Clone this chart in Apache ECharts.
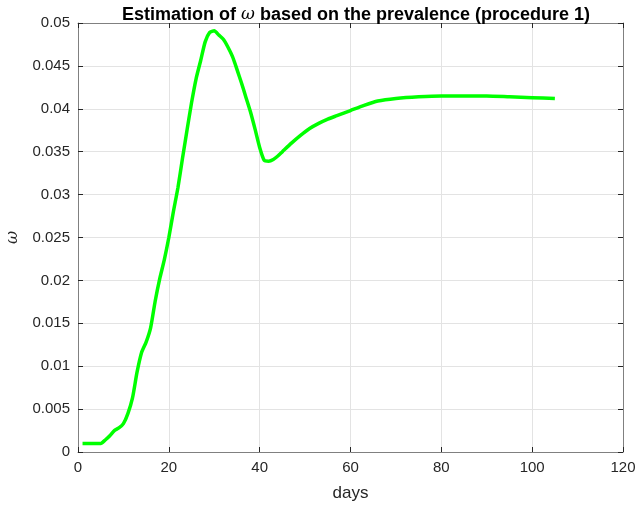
<!DOCTYPE html>
<html>
<head>
<meta charset="utf-8">
<script src="https://cdn.jsdelivr.net/npm/echarts@6/dist/echarts.min.js"></script>
<style>html,body{margin:0;padding:0;background:#fff}#c{width:636px;height:510px}</style>
</head>
<body>
<div id="c"></div>
<script>
const days = [1,2,3,4,5,6,7,8,9,10,11,12,13,14,15,16,17,18,19,20,21,22,23,24,25,26,27,28,29,30,31,32,33,34,35,36,37,38,39,40,41,42,43,44,45,47,49,51,53,55,57,60,63,66,70,75,80,85,90,95,100,105];
const omega = [0.0010,0.0010,0.0010,0.0010,0.0010,0.0014,0.0019,0.0025,0.0028,0.0033,0.0045,0.0063,0.0093,0.0116,0.0128,0.0145,0.0176,0.0202,0.0224,0.0250,0.0280,0.0308,0.0342,0.0375,0.0407,0.0435,0.0456,0.0478,0.0489,0.0491,0.0486,0.0481,0.0472,0.0461,0.0446,0.0430,0.0413,0.0396,0.0376,0.0355,0.0340,0.0339,0.0341,0.0345,0.0350,0.0360,0.0369,0.0377,0.0383,0.0388,0.0392,0.0398,0.0404,0.0409,0.0412,0.0414,0.0415,0.0415,0.0415,0.0414,0.0413,0.0412];
const xTicks = [0,20,40,60,80,100,120];
const yTicks = [0,0.005,0.01,0.015,0.02,0.025,0.03,0.035,0.04,0.045,0.05];

const chart = echarts.init(document.getElementById('c'), null, {renderer:'canvas'});
const font = 'Liberation Sans, Arial, Helvetica, sans-serif';
const axisCol = '#808080';
const txtCol = '#262626';
chart.setOption({
  animation:false,
  backgroundColor:'#fff',
  title:{
    text:'Estimation of {w|ω} based on the prevalence (procedure 1)',
    left:351, top:1, textAlign:'center',
    textStyle:{fontFamily:font,fontSize:18,fontWeight:'bold',color:'#000',
      rich:{w:{fontFamily:'DejaVu Serif, Liberation Serif, serif',fontStyle:'italic',fontWeight:'normal',fontSize:17,color:'#000'}}}
  },
  grid:{left:78,right:13,top:23,bottom:58,containLabel:false,outerBoundsMode:'none'},
  xAxis:[{
    type:'value',min:xTicks[0],max:xTicks[xTicks.length-1],interval:20,
    name:'days',nameLocation:'middle',nameGap:33,nameMoveOverlap:false,
    nameTextStyle:{fontFamily:font,fontSize:17,color:txtCol},
    axisLine:{show:true,lineStyle:{color:axisCol,width:1}},
    axisTick:{show:true,inside:true,length:5,lineStyle:{color:'#262626'}},
    axisLabel:{fontFamily:font,fontSize:15,color:txtCol,margin:8},
    splitLine:{show:true,lineStyle:{color:'#e3e3e3',width:1}}
  },{
    type:'value',position:'top',min:0,max:120,interval:20,
    axisLine:{show:true,onZero:false,lineStyle:{color:axisCol,width:1}},
    axisTick:{show:true,inside:true,length:5,lineStyle:{color:'#262626'}},
    axisLabel:{show:false},splitLine:{show:false}
  }],
  yAxis:[{
    type:'value',min:yTicks[0],max:yTicks[yTicks.length-1],interval:0.005,
    name:'ω',nameLocation:'middle',nameGap:57,nameRotate:90,nameMoveOverlap:false,
    nameTextStyle:{fontFamily:'DejaVu Serif, serif',fontStyle:'italic',fontSize:16,color:txtCol},
    axisLine:{show:true,lineStyle:{color:axisCol,width:1}},
    axisTick:{show:true,inside:true,length:5,lineStyle:{color:'#262626'}},
    axisLabel:{fontFamily:font,fontSize:15,color:txtCol,margin:8,formatter:v=>String(+v.toFixed(3))},
    splitLine:{show:true,lineStyle:{color:'#e3e3e3',width:1}}
  },{
    type:'value',position:'right',min:0,max:0.05,interval:0.005,
    axisLine:{show:true,onZero:false,lineStyle:{color:axisCol,width:1}},
    axisTick:{show:true,inside:true,length:5,lineStyle:{color:'#262626'}},
    axisLabel:{show:false},splitLine:{show:false}
  }],
  series:[{
    type:'line',xAxisIndex:0,yAxisIndex:0,
    data:days.map((d,i)=>[d,omega[i]]),
    showSymbol:false,smooth:0.2,
    lineStyle:{color:'#00ff00',width:3.5},
    clip:false
  }]
});
</script>
</body>
</html>
